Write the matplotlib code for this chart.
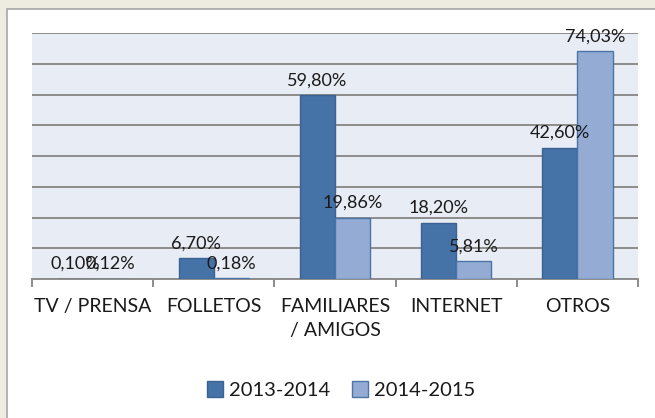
import numpy as np
import matplotlib
matplotlib.use('Agg')
import matplotlib.pyplot as plt
from matplotlib.patches import Rectangle

categories = ['TV / PRENSA', 'FOLLETOS', 'FAMILIARES\n/ AMIGOS', 'INTERNET', 'OTROS']
series_names = ['2013-2014', '2014-2015']
values_1314 = [0.10, 6.70, 59.80, 18.20, 42.60]
values_1415 = [0.12, 0.18, 19.86, 5.81, 74.03]


def fmt(v):
    return f"{v:.2f}%".replace('.', ',')


def main():
    plt.rcParams['font.family'] = ['Lato', 'DejaVu Sans']
    W, H = 655, 418
    fig = plt.figure(figsize=(W / 100, H / 100), dpi=100)
    fig.patch.set_facecolor('#EEECE1')

    # white chart panel (runs off the right/bottom edge)
    fig.patches.append(Rectangle((7 / W, -0.1), 1.2, (H - 9) / H + 0.1,
                                 transform=fig.transFigure, facecolor='white',
                                 edgecolor='#A6A6A6', linewidth=1.2, zorder=-5))

    ax = fig.add_axes([32 / W, (H - 279) / H, (638 - 32) / W, (279 - 33) / H])
    ax.set_facecolor('#E8ECF4')

    x = np.arange(len(categories))
    w = 0.29
    colors = ['#4572A7', '#94ABD3']
    edges = ['#3B6293', '#4A73A8']
    for k, vals in enumerate([values_1314, values_1415]):
        pos = x + (k - 0.5) * w
        ax.bar(pos, vals, width=w, color=colors[k], edgecolor=edges[k],
               linewidth=1.0, label=series_names[k], zorder=3)
        for p, v in zip(pos, vals):
            ax.annotate(fmt(v), (p, v), xytext=(0, 5), textcoords='offset points',
                        ha='center', va='bottom', fontsize=13, color='#1A1A1A', zorder=4)

    ax.set_xlim(-0.5, len(categories) - 0.5)
    ax.set_ylim(0, 80)
    ax.set_yticks(np.arange(0, 81, 10))
    ax.yaxis.grid(True, color='#8C8C8C', linewidth=1.4, zorder=1)
    ax.tick_params(axis='y', length=0, labelleft=False)
    for s in ['left', 'right', 'top']:
        ax.spines[s].set_visible(False)
    ax.spines['bottom'].set_color('#8C8C8C')
    ax.spines['bottom'].set_linewidth(1.4)

    ax.set_xticks(np.arange(-0.5, len(categories)), labels=[''] * (len(categories) + 1))
    ax.tick_params(axis='x', which='major', length=6, width=1.4, color='#8C8C8C', direction='out')
    ax.set_xticks(x, labels=categories, minor=True)
    ax.tick_params(axis='x', which='minor', length=0, pad=14, labelsize=14, labelcolor='#1A1A1A')
    for lbl in ax.get_xticklabels(minor=True):
        lbl.set_linespacing(1.5)

    fig.legend(loc='center', bbox_to_anchor=(341 / W, (H - 390) / H), ncol=2, frameon=False,
               fontsize=14.5, handlelength=0.8, handleheight=0.8, handletextpad=0.3,
               columnspacing=1.1, labelcolor='#1A1A1A')

    plt.savefig('out.png', dpi=100, facecolor=fig.get_facecolor())
    plt.close()


if __name__ == "__main__":
    main()
